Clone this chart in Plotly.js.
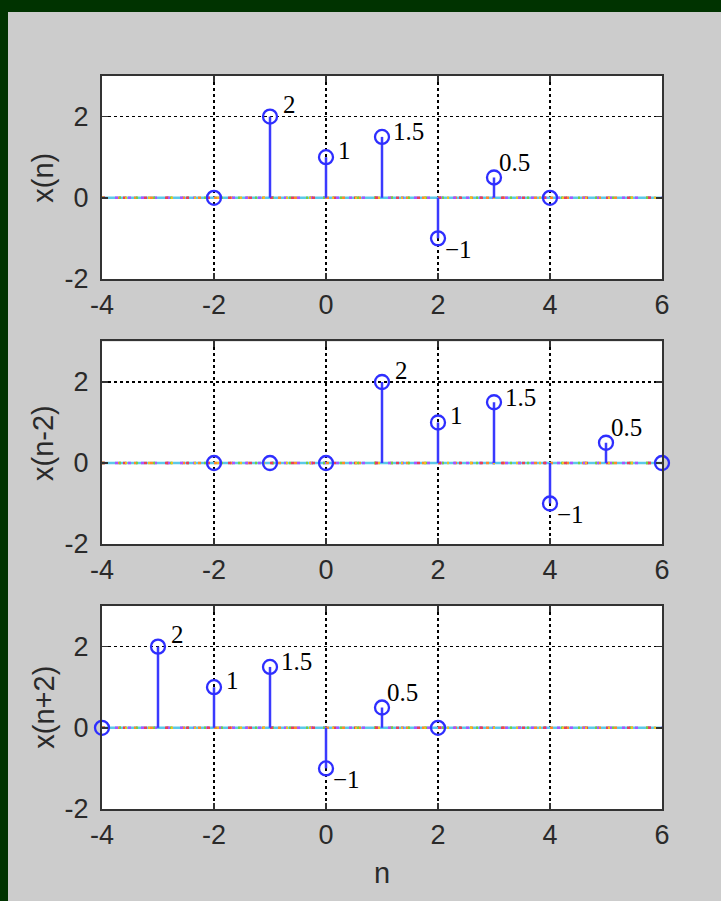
<!DOCTYPE html>
<html>
<head>
<meta charset="utf-8">
<script src="https://cdn.plot.ly/plotly-3.0.1.min.js"></script>
<style>
  html, body { margin: 0; padding: 0; background: #003300; width: 721px; height: 901px; overflow: hidden; }
  #plot { position: absolute; left: 8px; top: 12px; width: 713px; height: 889px; }
</style>
</head>
<body>
<div id="plot"></div>
<script>
// ---- data ----
const n1 = [-2, -1, 0, 1, 2, 3, 4];
const x1 = [0, 2, 1, 1.5, -1, 0.5, 0];
const n2 = [-2, -1, 0, 1, 2, 3, 4, 5, 6];
const x2 = [0, 0, 0, 2, 1, 1.5, -1, 0.5, 0];
const n3 = [-4, -3, -2, -1, 0, 1, 2];
const x3 = [0, 2, 1, 1.5, -1, 0.5, 0];
const yTitles = ['x(n)', 'x(n-2)', 'x(n+2)'];
const xTitle = 'n';
const nRange = [-4, 6];
const yRange = [-2, 3];
const xTickVals = [-4, -2, 0, 2, 4, 6];
const xTickText = ['-4', '-2', '0', '2', '4', '6'];
const yTickVals = [-2, 0, 2];
const yTickText = ['-2', '0', '2'];

// ---- styles ----
const labelShiftX = [11, 10, 9, 5, 3];
const labelShiftY = [12, 7, 5, -11, 15];
const stemColor = '#3a3aff';
const baseColors = ['#ff8a2a', '#a855ff', '#77d040', '#e8405a', '#f0c020'];
const baseDashes = ['3px,13px', '3px,10px', '2px,15px', '3px,18px', '2px,21px'];

const series = [[n1, x1], [n2, x2], [n3, x3]];
const domains = [[0.7231, 1], [0.3615, 0.6378], [0, 0.2769]];

const traces = [];
const annotations = [];
const layout = {
  width: 713, height: 889,
  paper_bgcolor: '#cccccc',
  plot_bgcolor: '#ffffff',
  margin: { l: 94, r: 59, t: 64, b: 92 },
  showlegend: false,
  annotations: annotations
};

function fmt(v) { return v < 0 ? '\u2212' + Math.abs(v) : String(v); }

series.forEach(([n, v], k) => {
  const sfx = k === 0 ? '' : String(k + 1);
  const xa = 'x' + sfx, ya = 'y' + sfx;
  traces.push({ x: nRange, y: [0, 0], xaxis: xa, yaxis: ya, mode: 'lines',
    line: { color: '#5cc8e8', width: 2.5 }, hoverinfo: 'skip' });
  baseColors.forEach((c, i) => {
    traces.push({ x: nRange, y: [0, 0], xaxis: xa, yaxis: ya, mode: 'lines',
      line: { color: c, width: 2.5, dash: baseDashes[i] }, hoverinfo: 'skip' });
  });
  const sx = [], sy = [];
  n.forEach((ni, i) => { sx.push(ni, ni, null); sy.push(0, v[i], null); });
  traces.push({ x: sx, y: sy, xaxis: xa, yaxis: ya, mode: 'lines',
    line: { color: stemColor, width: 2.5 }, hoverinfo: 'skip' });
  traces.push({ x: n, y: v, xaxis: xa, yaxis: ya, mode: 'markers', cliponaxis: false,
    marker: { symbol: 'circle-open', size: 14, color: '#2e2eff', line: { width: 2.3, color: '#2e2eff' } } });
  let li = 0;
  n.forEach((ni, i) => {
    if (v[i] !== 0) {
      annotations.push({ x: ni, y: v[i], xref: xa, yref: ya, text: fmt(v[i]), showarrow: false,
        xanchor: 'left', yanchor: 'middle', xshift: labelShiftX[li], yshift: labelShiftY[li],
        font: { family: 'Liberation Serif, Times New Roman, serif', size: 25, color: '#000' } });
      li++;
    }
  });
  const axCommon = {
    showline: true, linecolor: '#333', linewidth: 2, mirror: 'ticks',
    ticks: 'inside', ticklen: 6, tickcolor: '#333', tickwidth: 1.5,
    showgrid: true, gridcolor: '#000', griddash: '3px,3px', gridwidth: 1.6,
    zeroline: false, fixedrange: true,
    tickfont: { family: 'Liberation Sans, Arial, sans-serif', size: 27, color: '#2a2a2a' }
  };
  layout['xaxis' + sfx] = Object.assign({}, axCommon, {
    domain: [0, 1], range: nRange, tickvals: xTickVals, ticktext: xTickText, anchor: ya,
    ticklabelstandoff: 1
  });
  layout['yaxis' + sfx] = Object.assign({}, axCommon, {
    domain: domains[k], range: yRange, tickvals: yTickVals, ticktext: yTickText, anchor: xa,
    ticklabelstandoff: 6
  });
  annotations.push({ xref: 'paper', yref: ya + ' domain', x: -0.105, y: 0.5, textangle: -90,
    text: yTitles[k], showarrow: false, xanchor: 'center', yanchor: 'middle',
    font: { family: 'Liberation Sans, Arial, sans-serif', size: 29, color: '#2a2a2a' } });
});
annotations.push({ xref: 'paper', yref: 'paper', x: 0.5, y: -0.0873, text: xTitle, showarrow: false,
  xanchor: 'center', yanchor: 'middle',
  font: { family: 'Liberation Sans, Arial, sans-serif', size: 29, color: '#2a2a2a' } });

Plotly.newPlot('plot', traces, layout, { staticPlot: true, displayModeBar: false });
</script>
</body>
</html>
